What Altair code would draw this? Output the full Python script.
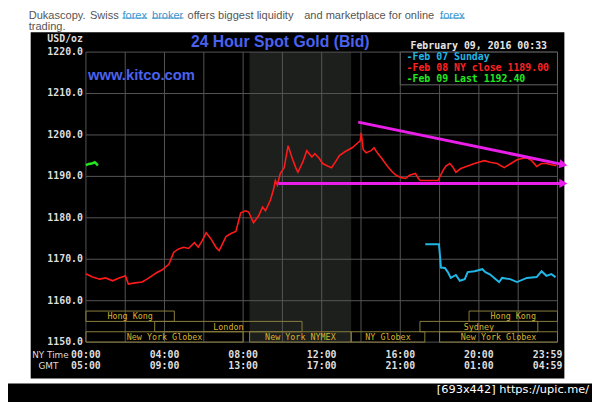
import altair as alt
import pandas as pd

# ---------------- data ----------------
red_h = [0.00, 0.30, 0.70, 1.00, 1.36, 1.66, 2.01, 2.16, 2.51, 2.86, 3.11, 3.36, 3.61, 3.87,
         4.22, 4.47, 4.72, 4.97, 5.22, 5.52, 5.72, 5.92, 6.12, 6.38, 6.63, 6.78, 6.98, 7.13,
         7.38, 7.63, 7.88, 8.13, 8.28, 8.53, 8.79, 8.99, 9.14, 9.39, 9.54, 9.64, 9.74, 9.89,
         10.09, 10.29, 10.49, 10.69, 10.79, 11.04, 11.24, 11.50, 11.65, 11.85, 12.05, 12.30,
         12.50, 12.70, 12.90, 13.20, 13.55, 13.81, 13.96, 14.01, 14.11, 14.26, 14.51, 14.66,
         14.86, 15.06, 15.26, 15.41, 15.61, 15.81, 16.06, 16.27, 16.47, 16.77, 16.92, 17.02,
         17.42, 17.92, 18.17, 18.32, 18.52, 18.67, 18.83, 19.08, 19.43, 19.78, 20.03, 20.28,
         20.58, 20.93, 21.29, 21.59, 21.94, 22.19, 22.44, 22.69, 22.94, 23.19, 23.44, 23.69, 23.95]
red_v = [1166.5, 1165.8, 1165.2, 1165.5, 1164.8, 1165.4, 1166.0, 1164.0, 1164.3, 1164.5, 1165.2,
         1166.0, 1166.8, 1167.4, 1168.8, 1171.7, 1172.5, 1172.9, 1172.6, 1174.0, 1172.9, 1174.5,
         1176.4, 1174.8, 1172.8, 1172.1, 1174.0, 1175.5, 1176.2, 1176.7, 1181.2, 1181.7, 1181.4,
         1178.8, 1180.5, 1182.6, 1181.7, 1184.3, 1186.7, 1189.0, 1187.9, 1190.7, 1192.1, 1197.4,
         1194.5, 1192.0, 1191.0, 1193.5, 1196.2, 1194.7, 1195.5, 1194.5, 1193.1, 1192.5, 1192.1,
         1193.5, 1195.0, 1196.0, 1196.9, 1198.0, 1198.6, 1200.5, 1196.5, 1195.7, 1196.2, 1196.9,
         1195.5, 1194.3, 1193.0, 1192.1, 1191.0, 1190.2, 1189.7, 1189.5, 1190.3, 1190.7, 1189.5,
         1189.0, 1189.0, 1189.0, 1191.4, 1192.5, 1193.1, 1192.3, 1191.0, 1191.9, 1192.5, 1193.1,
         1193.5, 1193.8, 1193.4, 1193.1, 1192.1, 1193.0, 1194.0, 1194.3, 1194.5, 1193.8, 1192.4,
         1193.1, 1193.1, 1192.8, 1192.6]

cyan_h = [17.27, 17.97, 18.07, 18.27, 18.42, 18.57, 18.83, 19.03, 19.28, 19.43, 19.78, 20.18,
          20.33, 20.58, 20.78, 21.03, 21.18, 21.59, 21.94, 22.44, 22.94, 23.19, 23.44, 23.69, 23.90]
cyan_v = [1173.6, 1173.6, 1168.0, 1167.9, 1166.9, 1165.5, 1166.2, 1164.8, 1165.2, 1166.9, 1167.1,
          1167.6, 1166.9, 1166.3, 1165.5, 1164.5, 1165.5, 1165.2, 1164.5, 1165.5, 1165.7, 1167.1,
          1166.0, 1166.4, 1165.7]

green_h = [0.00, 0.15, 0.30, 0.45, 0.55, 0.60]
green_v = [1192.7, 1193.0, 1193.1, 1193.4, 1193.0, 1192.6]

support_h = [9.79, 24.30]
support_v = [1188.3, 1188.3]
resist_h = [13.86, 24.30]
resist_v = [1203.1, 1192.85]

y_ticks = [1150, 1160, 1170, 1180, 1190, 1200, 1210, 1220]
x_grid = [0, 2, 4, 6, 8, 10, 12, 14, 16, 18, 20, 22, 24]
x_tick_h = [0, 4, 8, 12, 16, 20, 24]
ny_labels = ["00:00", "04:00", "08:00", "12:00", "16:00", "20:00", "23:59"]
gmt_labels = ["05:00", "09:00", "13:00", "17:00", "21:00", "01:00", "04:59"]

session_names = ["Hong Kong", "Hong Kong", "London", "Sydney",
                 "New York Globex", "New York NYMEX", "NY Globex", "New York Globex"]
session_start = [0, 19.5, 3.5, 17.0, 0, 8.33, 13.5, 18.0]
session_end = [4.5, 24, 11.0, 23.0, 8.0, 13.5, 17.25, 24]
session_row = [1, 1, 2, 2, 3, 3, 3, 3]

nymex_start, nymex_end = 8.33, 13.5

legend_labels = ["-Feb 07 Sunday", "-Feb 08 NY close 1189.00", "-Feb 09 Last 1192.40"]
legend_colors = ["#22b6e6", "#ff2222", "#22e822"]

# ---------------- chart ----------------
W, H = 478, 294
xs = alt.Scale(domain=[0, 24], nice=False, zero=False)
ys = alt.Scale(domain=[1150, 1220], nice=False, zero=False)


def X(f):
    return alt.X(f, type="quantitative", scale=xs, axis=None)


def Y(f):
    return alt.Y(f, type="quantitative", scale=ys, axis=None)


one = pd.DataFrame({"k": [0]})
MONO = "DejaVu Sans Mono"
SANS = "Liberation Sans"

layers = []

# black picture background and bottom strip
layers.append(alt.Chart(one).mark_rect(color="black").encode(
    x=alt.value(-56), x2=alt.value(485), y=alt.value(-20), y2=alt.value(331)))
layers.append(alt.Chart(one).mark_rect(color="black").encode(
    x=alt.value(-90), x2=alt.value(520), y=alt.value(336), y2=alt.value(356)))

# NYMEX shading
layers.append(alt.Chart(pd.DataFrame({"s": [nymex_start], "e": [nymex_end]}))
              .mark_rect(color="#1c1f1c").encode(
    x=X("s"), x2="e", y=alt.value(0), y2=alt.value(H)))

# grid
layers.append(alt.Chart(pd.DataFrame({"h": x_grid})).mark_rule(color="#555555", strokeWidth=1)
              .encode(x=X("h"), y=alt.value(0), y2=alt.value(H)))
layers.append(alt.Chart(pd.DataFrame({"v": y_ticks})).mark_rule(color="#555555", strokeWidth=1)
              .encode(y=Y("v"), x=alt.value(0), x2=alt.value(W)))

# session boxes
sess = pd.DataFrame({"name": session_names, "s": session_start, "e": session_end, "row": session_row})
sess_base = alt.Chart(sess).transform_calculate(
    top="1157.5 - 2.5 * (datum.row - 1)",
    bot="1155 - 2.5 * (datum.row - 1)",
    mid="(datum.s + datum.e) / 2",
    ymid="1156.25 - 2.5 * (datum.row - 1)")
layers.append(sess_base.mark_rect(fillOpacity=0, stroke="#8a7e3e", strokeWidth=1).encode(
    x=X("s"), x2="e", y=Y("top"), y2="bot"))
layers.append(sess_base.mark_text(font=MONO, fontSize=8.5, color="#d9b22e", baseline="middle").encode(
    x=X("mid"), y=Y("ymid"), text="name"))

# legend box
layers.append(alt.Chart(pd.DataFrame({"s": [16], "e": [24], "t": [1220], "b": [1212.1]}))
              .mark_rect(fill="black", stroke="#666666", strokeWidth=1).encode(
    x=X("s"), x2="e", y=Y("t"), y2="b"))
for i, (lab, col) in enumerate(zip(legend_labels, legend_colors)):
    layers.append(alt.Chart(one).mark_text(text=lab, font=MONO, fontSize=10, fontWeight="bold",
                                           color=col, align="left", baseline="middle").encode(
        x=alt.value(325), y=alt.value(5 + 11 * i)))

# data lines
layers.append(alt.Chart(pd.DataFrame({"h": red_h, "v": red_v})).mark_line(
    color="#ff1a1a", strokeWidth=1.6).encode(x=X("h"), y=Y("v")))
layers.append(alt.Chart(pd.DataFrame({"h": cyan_h, "v": cyan_v})).mark_line(
    color="#22b6e6", strokeWidth=2).encode(x=X("h"), y=Y("v")))
layers.append(alt.Chart(pd.DataFrame({"h": green_h, "v": green_v})).mark_line(
    color="#22e822", strokeWidth=2.5).encode(x=X("h"), y=Y("v")))

# magenta trend arrows
MAG = "#e91ee9"
sup = pd.DataFrame({"h": support_h, "v": support_v})
res = pd.DataFrame({"h": resist_h, "v": resist_v})
layers.append(alt.Chart(sup).mark_line(color=MAG, strokeWidth=3).encode(x=X("h"), y=Y("v")))
layers.append(alt.Chart(res).mark_line(color=MAG, strokeWidth=3).encode(x=X("h"), y=Y("v")))
layers.append(alt.Chart(sup.tail(1)).mark_point(shape="triangle-right", filled=True, size=90,
                                                color=MAG, opacity=1).encode(x=X("h"), y=Y("v")))
layers.append(alt.Chart(res.tail(1)).mark_point(shape="triangle-right", filled=True, size=90,
                                                color=MAG, opacity=1, angle=11.7).encode(x=X("h"), y=Y("v")))

# y tick labels
layers.append(alt.Chart(pd.DataFrame({"v": y_ticks})).mark_text(
    font=MONO, fontSize=10, fontWeight="bold", color="#dddddd", align="right", baseline="middle").encode(
    y=Y("v"), x=alt.value(-3), text=alt.Text("v:Q", format=".1f")))

# x tick labels (NY time and GMT rows)
xt = pd.DataFrame({"h": x_tick_h, "ny": ny_labels, "gmt": gmt_labels})
for fld, yy in (("ny", 307), ("gmt", 318)):
    layers.append(alt.Chart(xt).transform_filter("datum.h < 24").mark_text(
        font=MONO, fontSize=10, fontWeight="bold", color="#dddddd", align="center", baseline="middle").encode(
        x=X("h"), y=alt.value(yy), text=f"{fld}:N"))
    layers.append(alt.Chart(xt).transform_filter("datum.h >= 24").mark_text(
        font=MONO, fontSize=10, fontWeight="bold", color="#dddddd", align="right", baseline="middle", dx=5).encode(
        x=X("h"), y=alt.value(yy), text=f"{fld}:N"))


# static texts
def txt(s, x, y, **kw):
    return alt.Chart(one).mark_text(text=s, **kw).encode(x=alt.value(x), y=alt.value(y))


layers.append(txt("NY Time", -36, 307, font="DejaVu Sans", fontSize=9, color="#dddddd",
                  align="center", baseline="middle"))
layers.append(txt("GMT", -38, 318, font="DejaVu Sans", fontSize=9, color="#dddddd",
                  align="center", baseline="middle"))
layers.append(txt("USD/oz", -3, -13, font=MONO, fontSize=10, fontWeight="bold", color="#dddddd",
                  align="right", baseline="middle"))
layers.append(txt("24 Hour Spot Gold (Bid)", 197, -5, font=SANS, fontSize=16, fontWeight="bold",
                  color="#4a62ee", align="center", baseline="alphabetic"))
layers.append(txt("February 09, 2016 00:33", 329, -6, font=MONO, fontSize=10, fontWeight="bold",
                  color="#e6e6e6", align="left", baseline="middle"))
layers.append(txt("www.kitco.com", 2, 23, font=SANS, fontSize=15, fontWeight="bold",
                  color="#4a62ee", align="left", baseline="middle"))

# page text above the picture
GRAY = "#555555"
LINK = "#3a97cf"
FS = 11.2
Y1, Y2 = -37, -25
layers.append(txt("Dukascopy.", -58, Y1, font=SANS, fontSize=FS, color=GRAY, align="left"))
layers.append(txt("Swiss", 4, Y1, font=SANS, fontSize=FS, color=GRAY, align="left"))
layers.append(txt("forex", 37, Y1, font=SANS, fontSize=FS, color=LINK, align="left"))
layers.append(txt("broker", 67, Y1, font=SANS, fontSize=FS, color=LINK, align="left"))
layers.append(txt("offers biggest liquidity", 103, Y1, font=SANS, fontSize=FS, color=GRAY, align="left"))
layers.append(txt("and marketplace for online", 353, Y1, font=SANS, fontSize=FS, color=GRAY, align="right"))
layers.append(txt("forex", 359, Y1, font=SANS, fontSize=FS, color=LINK, align="left"))
layers.append(txt("trading.", -58, Y2, font=SANS, fontSize=FS, color=GRAY, align="left"))
for x0, x1 in ((37, 62), (67, 99), (359, 384)):
    layers.append(alt.Chart(one).mark_rule(color=LINK, strokeWidth=1).encode(
        x=alt.value(x0), x2=alt.value(x1), y=alt.value(Y1 + 2.5)))

# watermark in the bottom strip
layers.append(txt("[693x442] https://upic.me/", 510, 343, font="DejaVu Sans", fontSize=11.5,
                  color="white", align="right", baseline="middle"))

chart = alt.layer(*layers).properties(
    width=W, height=H,
    autosize=alt.AutoSizeParams(type="none"),
    padding={"left": 79, "top": 42, "right": 35, "bottom": 58},
).configure(background="white").configure_view(stroke=None)

chart.save("out.html", embed_options={"renderer": "svg", "actions": False})
